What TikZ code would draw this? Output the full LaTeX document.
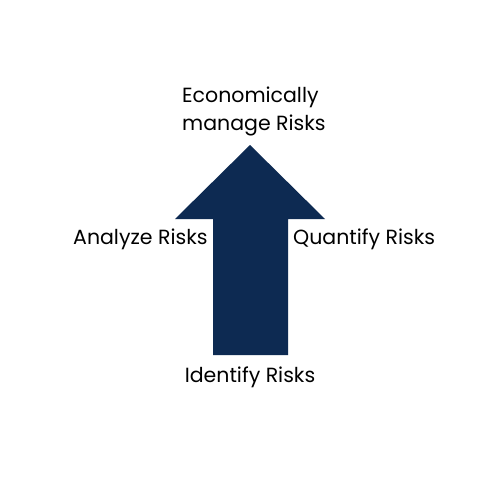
\documentclass[tikz,border=0pt]{standalone}
\usepackage{fontspec}
\setmainfont{Poppins}
\definecolor{navy}{HTML}{0D2A52}
\begin{document}
\begin{tikzpicture}[x=1pt,y=-1pt,
  lbl/.style={inner sep=0pt,font=\fontsize{20.5}{28}\selectfont,text=black}]
\useasboundingbox[fill=white] (0,0) rectangle (500,500);
\fill[navy] (213,355) -- (213,219) -- (175,219) -- (250,145) -- (325,219) -- (288,219) -- (288,355) -- cycle;
\node[lbl,align=left,anchor=west] (top) at (182,111) {Economically\\manage Risks};
\node[lbl,anchor=west] (left) at (73,239) {Analyze Risks};
\node[lbl,anchor=west] (right) at (293,239) {Quantify Risks};
\node[lbl] (bottom) at (250,377) {Identify Risks};
\end{tikzpicture}
\end{document}
